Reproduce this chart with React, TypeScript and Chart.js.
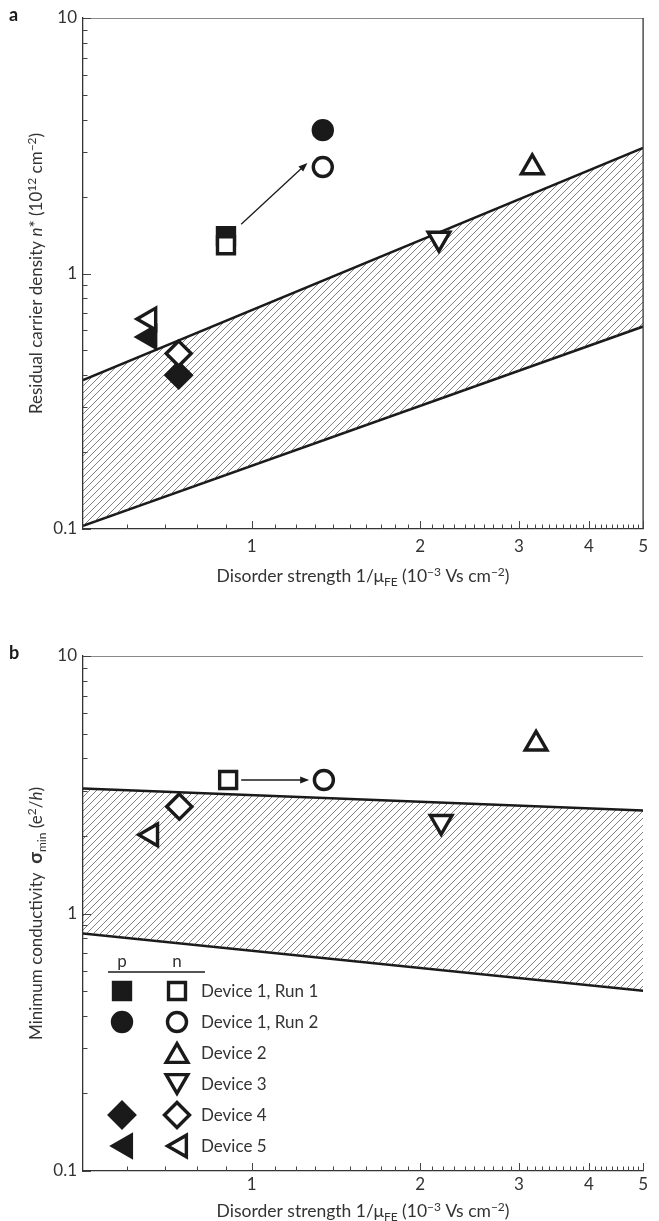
import React, { useEffect, useRef } from 'react';
import { Chart, registerables } from 'chart.js';
import { drawPoint } from 'chart.js/helpers';

Chart.register(...registerables);

const FONT = 'Lato, "Open Sans", sans-serif';
const INK = '#1a1a1a';
const TEXT = '#333333';

// ---------- categories ----------
const DEVICES = ['Device 1, Run 1', 'Device 1, Run 2', 'Device 2', 'Device 3', 'Device 4', 'Device 5'];
const MARKERS = ['square', 'circle', 'up', 'down', 'diamond', 'left'];

// ---------- panel a : residual carrier density n* ----------
const A_X = [0.9, 1.34, 3.17, 2.16, 0.741, 0.657];
const A_P = [1.4, 3.64, null, null, 0.4, 0.564];
const A_N = [1.29, 2.61, 2.6, 1.37, 0.486, 0.664];
const A_BAND_X = [0.5, 5];
const A_BAND_UPPER = [0.383, 3.1];
const A_BAND_LOWER = [0.103, 0.62];
const A_ARROW_X = [0.958, 1.258];
const A_ARROW_Y = [1.56, 2.71];

// ---------- panel b : minimum conductivity ----------
const B_X = [0.908, 1.346, 3.22, 2.18, 0.743, 0.662];
const B_N = [3.3, 3.3, 4.56, 2.27, 2.6, 2.02];
const B_BAND_X = [0.5, 5];
const B_BAND_UPPER = [3.06, 2.51];
const B_BAND_LOWER = [0.837, 0.501];
const B_ARROW_X = [0.958, 1.267];
const B_ARROW_Y = [3.3, 3.3];

// ---------- axes / ticks ----------
const X_RANGE = [0.5, 5];
const Y_RANGE = [0.1, 10];
const X_TICK_LABELS = [1, 2, 3, 4, 5];
const X_MINOR_TICKS = [0.6, 0.7, 0.8, 0.9, 1.1, 1.2, 1.3, 1.4, 1.5, 1.6, 1.7, 1.8, 1.9, 2.1, 2.2, 2.3, 2.4, 2.5, 2.6, 2.7, 2.8, 2.9, 3.1, 3.2, 3.3, 3.4, 3.5, 3.6, 3.7, 3.8, 3.9, 4.1, 4.2, 4.3, 4.4, 4.5, 4.6, 4.7, 4.8, 4.9];
const Y_TICK_LABELS = [0.1, 1, 10];
const Y_MINOR_TICKS = [0.2, 0.3, 0.4, 0.5, 0.6, 0.7, 0.8, 0.9, 2, 3, 4, 5, 6, 7, 8, 9];

type Seg = [string, string];
const X_TITLE: Seg[] = [['Disorder strength 1/μ', ''], ['FE', 'sub'], [' (10', ''], ['−3', 'sup'], [' Vs cm', ''], ['−2', 'sup'], [')', '']];
const A_Y_TITLE: Seg[] = [['Residual carrier density ', ''], ['n', 'it'], ['* (10', ''], ['12', 'sup'], [' cm', ''], ['−2', 'sup'], [')', '']];
const B_Y_TITLE: Seg[] = [['Minimum conductivity  ', ''], ['σ', 'bold'], ['min', 'sub'], [' (e', ''], ['2', 'sup'], ['/', ''], ['h', 'it'], [')', '']];
const LEGEND_HEAD = ['p', 'n'];

const MARKER_SPEC: Record<string, { pointStyle: string; rotation: number; radius: number }> = {
  square: { pointStyle: 'rect', rotation: 0, radius: 12 },
  circle: { pointStyle: 'circle', rotation: 0, radius: 9.5 },
  up: { pointStyle: 'triangle', rotation: 0, radius: 12.5 },
  down: { pointStyle: 'triangle', rotation: 180, radius: 12.5 },
  diamond: { pointStyle: 'rectRot', rotation: 0, radius: 12.5 },
  left: { pointStyle: 'triangle', rotation: 270, radius: 12.5 },
};
const STROKE = 3.4;

function makeHatch(): CanvasPattern | string {
  const s = 14;
  const c = document.createElement('canvas');
  c.width = s;
  c.height = s;
  const g = c.getContext('2d');
  if (!g) return 'rgba(0,0,0,0.2)';
  g.strokeStyle = '#4a4a4a';
  g.lineWidth = 0.7;
  for (const o of [-s, -s / 2, 0, s / 2, s]) {
    g.beginPath();
    g.moveTo(o, s);
    g.lineTo(o + s, 0);
    g.stroke();
  }
  return g.createPattern(c, 'repeat') || 'rgba(0,0,0,0.2)';
}

function segFont(kind: string, size: number) {
  switch (kind) {
    case 'it':
      return `italic ${size}px ${FONT}`;
    case 'sup':
    case 'sub':
      return `${Math.round(size * 0.68)}px ${FONT}`;
    case 'bold':
      return `bold ${Math.round(size * 1.1)}px ${FONT}`;
    default:
      return `${size}px ${FONT}`;
  }
}

function drawRich(ctx: CanvasRenderingContext2D, segs: Seg[], x: number, y: number, angle: number, size: number) {
  ctx.save();
  ctx.translate(x, y);
  ctx.rotate(angle);
  ctx.fillStyle = TEXT;
  ctx.textBaseline = 'alphabetic';
  ctx.textAlign = 'left';
  let total = 0;
  const widths = segs.map(([t, k]) => {
    ctx.font = segFont(k, size);
    const w = ctx.measureText(t).width;
    total += w;
    return w;
  });
  let cx = -total / 2;
  segs.forEach(([t, k], i) => {
    ctx.font = segFont(k, size);
    const dy = k === 'sup' ? -size * 0.36 : k === 'sub' ? size * 0.22 : 0;
    ctx.fillText(t, cx, dy);
    cx += widths[i];
  });
  ctx.restore();
}

function centerFor(m: { pointStyle: string; rotation: number; radius: number }, x: number, y: number) {
  if (m.pointStyle !== 'triangle') return [x, y];
  const rad = (m.rotation * Math.PI) / 180;
  const ax = Math.sin(rad);
  const ay = -Math.cos(rad);
  return [x - (m.radius / 4) * ax, y - (m.radius / 4) * ay];
}

function drawArrow(ctx: CanvasRenderingContext2D, x1: number, y1: number, x2: number, y2: number) {
  const ang = Math.atan2(y2 - y1, x2 - x1);
  const L = 9;
  const W = 3.5;
  const c = Math.cos(ang);
  const s = Math.sin(ang);
  ctx.save();
  ctx.strokeStyle = INK;
  ctx.fillStyle = INK;
  ctx.lineWidth = 1.3;
  ctx.beginPath();
  ctx.moveTo(x1, y1);
  ctx.lineTo(x2 - L * 0.8 * c, y2 - L * 0.8 * s);
  ctx.stroke();
  ctx.beginPath();
  ctx.moveTo(x2, y2);
  ctx.lineTo(x2 - L * c + W * s, y2 - L * s - W * c);
  ctx.lineTo(x2 - L * c - W * s, y2 - L * s + W * c);
  ctx.closePath();
  ctx.fill();
  ctx.restore();
}

function markerDatasets(xs: number[], ps: (number | null)[] | null, ns: (number | null)[]) {
  const ds: any[] = [];
  DEVICES.forEach((label, i) => {
    const m = MARKER_SPEC[MARKERS[i]];
    const common = {
      type: 'scatter',
      pointStyle: m.pointStyle,
      pointRotation: m.rotation,
      pointRadius: m.radius,
      pointHoverRadius: m.radius,
      pointBorderWidth: STROKE,
      pointHoverBorderWidth: STROKE,
      pointBorderColor: INK,
      showLine: false,
      clip: false,
    };
    if (ps && ps[i] != null) {
      ds.push({ ...common, label: label + ' (p)', data: [{ x: xs[i], y: ps[i] }], pointBackgroundColor: INK, order: 2 });
    }
    if (ns[i] != null) {
      ds.push({ ...common, label: label + ' (n)', data: [{ x: xs[i], y: ns[i] }], pointBackgroundColor: '#ffffff', order: 1 });
    }
  });
  return ds;
}

function bandDatasets(bx: number[], up: number[], lo: number[], pattern: any) {
  return [
    {
      type: 'line',
      label: 'upper bound',
      data: bx.map((x, i) => ({ x, y: up[i] })),
      borderColor: INK,
      borderWidth: 2.5,
      pointRadius: 0,
      pointHoverRadius: 0,
      showLine: true,
      tension: 0,
      fill: '+1',
      backgroundColor: pattern,
      order: 10,
    },
    {
      type: 'line',
      label: 'lower bound',
      data: bx.map((x, i) => ({ x, y: lo[i] })),
      borderColor: INK,
      borderWidth: 2.5,
      pointRadius: 0,
      pointHoverRadius: 0,
      showLine: true,
      tension: 0,
      fill: false,
      order: 11,
    },
  ];
}

function makeConfig(opts: {
  pattern: any;
  top: number;
  xHeight: number;
  xPad: number;
  datasets: any[];
  plugins: any[];
}) {
  return {
    type: 'scatter',
    data: { datasets: opts.datasets },
    options: {
      animation: false,
      responsive: false,
      events: [],
      layout: { padding: { top: opts.top, right: 2, left: 0, bottom: 0 } },
      plugins: { legend: { display: false }, tooltip: { enabled: false } },
      scales: {
        x: {
          type: 'logarithmic',
          min: X_RANGE[0],
          max: X_RANGE[1],
          grid: { display: false, drawTicks: false },
          border: { display: true, color: '#333', width: 1.3 },
          ticks: {
            font: { family: FONT, size: 17 },
            color: TEXT,
            padding: opts.xPad,
            maxRotation: 0,
            autoSkip: false,
            callback: (v: any) => String(v),
          },
          afterBuildTicks: (s: any) => {
            s.ticks = X_TICK_LABELS.map((v) => ({ value: v }));
          },
          afterFit: (s: any) => {
            s.height = opts.xHeight;
            s.paddingLeft = 0;
            s.paddingRight = 0;
          },
        },
        y: {
          type: 'logarithmic',
          min: Y_RANGE[0],
          max: Y_RANGE[1],
          grid: { display: false, drawTicks: false },
          border: { display: true, color: '#333', width: 1.3 },
          ticks: {
            font: { family: FONT, size: 17 },
            color: TEXT,
            padding: 6,
            autoSkip: false,
            callback: (v: any) => String(v),
          },
          afterBuildTicks: (s: any) => {
            s.ticks = Y_TICK_LABELS.map((v) => ({ value: v }));
          },
          afterFit: (s: any) => {
            s.width = 83;
            s.paddingTop = 0;
            s.paddingBottom = 0;
          },
        },
      },
    },
    plugins: opts.plugins,
  } as any;
}

function framePlugin(panel: string, yTitle: Seg[], xTitleOffset: number, rightBorder: boolean, arrowX: number[], arrowY: number[]) {
  return {
    id: 'frame' + panel,
    afterDatasetsDraw(chart: any) {
      const { ctx, scales } = chart;
      drawArrow(
        ctx,
        scales.x.getPixelForValue(arrowX[0]),
        scales.y.getPixelForValue(arrowY[0]),
        scales.x.getPixelForValue(arrowX[1]),
        scales.y.getPixelForValue(arrowY[1])
      );
    },
    afterDraw(chart: any) {
      const { ctx, chartArea: ca, scales } = chart;
      const { x, y } = scales;
      ctx.save();
      ctx.strokeStyle = '#8a8a8a';
      ctx.lineWidth = 1;
      ctx.beginPath();
      ctx.moveTo(ca.left, Math.round(ca.top) + 0.5);
      ctx.lineTo(ca.right, Math.round(ca.top) + 0.5);
      ctx.stroke();
      if (rightBorder) {
        ctx.strokeStyle = '#333';
        ctx.lineWidth = 1.3;
        ctx.beginPath();
        ctx.moveTo(ca.right, ca.top);
        ctx.lineTo(ca.right, ca.bottom);
        ctx.stroke();
      }
      ctx.strokeStyle = '#444';
      ctx.lineWidth = 1;
      const tx = (v: number, len: number) => {
        const px = Math.round(x.getPixelForValue(v)) + 0.5;
        ctx.beginPath();
        ctx.moveTo(px, ca.bottom);
        ctx.lineTo(px, ca.bottom - len);
        ctx.stroke();
      };
      const ty = (v: number, len: number) => {
        const py = Math.round(y.getPixelForValue(v)) + 0.5;
        ctx.beginPath();
        ctx.moveTo(ca.left, py);
        ctx.lineTo(ca.left + len, py);
        ctx.stroke();
      };
      X_TICK_LABELS.forEach((v) => tx(v, 8));
      X_MINOR_TICKS.forEach((v) => tx(v, 4.5));
      Y_TICK_LABELS.forEach((v) => ty(v, 8));
      Y_MINOR_TICKS.forEach((v) => ty(v, 4.5));
      ctx.restore();
      drawRich(ctx, X_TITLE, (ca.left + ca.right) / 2, ca.bottom + xTitleOffset, 0, 17.5);
      drawRich(ctx, yTitle, 42, (ca.top + ca.bottom) / 2, -Math.PI / 2, 17);
      ctx.save();
      ctx.fillStyle = INK;
      ctx.font = `bold 18px ${FONT}`;
      ctx.textBaseline = 'alphabetic';
      ctx.textAlign = 'left';
      ctx.fillText(panel, 9, ca.top + 3);
      ctx.restore();
    },
  };
}

const legendPlugin = {
  id: 'pnLegend',
  afterDraw(chart: any) {
    const ctx: CanvasRenderingContext2D = chart.ctx;
    const pX = 122;
    const nX = 177;
    const tX = 201;
    const y0 = 391;
    const step = 31;
    ctx.save();
    ctx.fillStyle = TEXT;
    ctx.font = `17px ${FONT}`;
    ctx.textAlign = 'center';
    ctx.textBaseline = 'alphabetic';
    ctx.fillText(LEGEND_HEAD[0], pX, 367);
    ctx.fillText(LEGEND_HEAD[1], nX, 367);
    ctx.strokeStyle = INK;
    ctx.lineWidth = 1.5;
    ctx.beginPath();
    ctx.moveTo(108, 372);
    ctx.lineTo(205, 372);
    ctx.stroke();
    DEVICES.forEach((label, i) => {
      const y = y0 + i * step;
      const m = MARKER_SPEC[MARKERS[i]];
      ctx.lineWidth = STROKE;
      ctx.strokeStyle = INK;
      if (A_P[i] != null) {
        const [cx, cy] = centerFor(m, pX, y);
        ctx.fillStyle = INK;
        drawPoint(ctx, { pointStyle: m.pointStyle, rotation: m.rotation, radius: m.radius, borderWidth: STROKE } as any, cx, cy);
      }
      if (A_N[i] != null) {
        const [cx, cy] = centerFor(m, nX, y);
        ctx.fillStyle = '#ffffff';
        drawPoint(ctx, { pointStyle: m.pointStyle, rotation: m.rotation, radius: m.radius, borderWidth: STROKE } as any, cx, cy);
      }
      ctx.fillStyle = TEXT;
      ctx.font = `17px ${FONT}`;
      ctx.textAlign = 'left';
      ctx.fillText(label, tX, y + 6);
    });
    ctx.restore();
  },
};

export default function App() {
  const refA = useRef<HTMLCanvasElement>(null);
  const refB = useRef<HTMLCanvasElement>(null);

  useEffect(() => {
    document.body.style.margin = '0';
    const pattern = makeHatch();
    const a = new Chart(
      refA.current as HTMLCanvasElement,
      makeConfig({
        pattern,
        top: 18,
        xHeight: 71,
        xPad: 7,
        datasets: [...markerDatasets(A_X, A_P, A_N), ...bandDatasets(A_BAND_X, A_BAND_UPPER, A_BAND_LOWER, pattern)],
        plugins: [framePlugin('a', A_Y_TITLE, 53, true, A_ARROW_X, A_ARROW_Y)],
      })
    );
    const b = new Chart(
      refB.current as HTMLCanvasElement,
      makeConfig({
        pattern,
        top: 56,
        xHeight: 50,
        xPad: 3,
        datasets: [...markerDatasets(B_X, null, B_N), ...bandDatasets(B_BAND_X, B_BAND_UPPER, B_BAND_LOWER, pattern)],
        plugins: [framePlugin('b', B_Y_TITLE, 46, false, B_ARROW_X, B_ARROW_Y), legendPlugin],
      })
    );
    return () => {
      a.destroy();
      b.destroy();
    };
  }, []);

  return (
    <div style={{ position: 'absolute', left: 0, top: 0, width: 659, height: 1221, background: '#ffffff', overflow: 'hidden' }}>
      <canvas ref={refA} width={659} height={600} style={{ position: 'absolute', left: 0, top: 0, width: 659, height: 600 }} />
      <canvas ref={refB} width={659} height={621} style={{ position: 'absolute', left: 0, top: 600, width: 659, height: 621 }} />
    </div>
  );
}
